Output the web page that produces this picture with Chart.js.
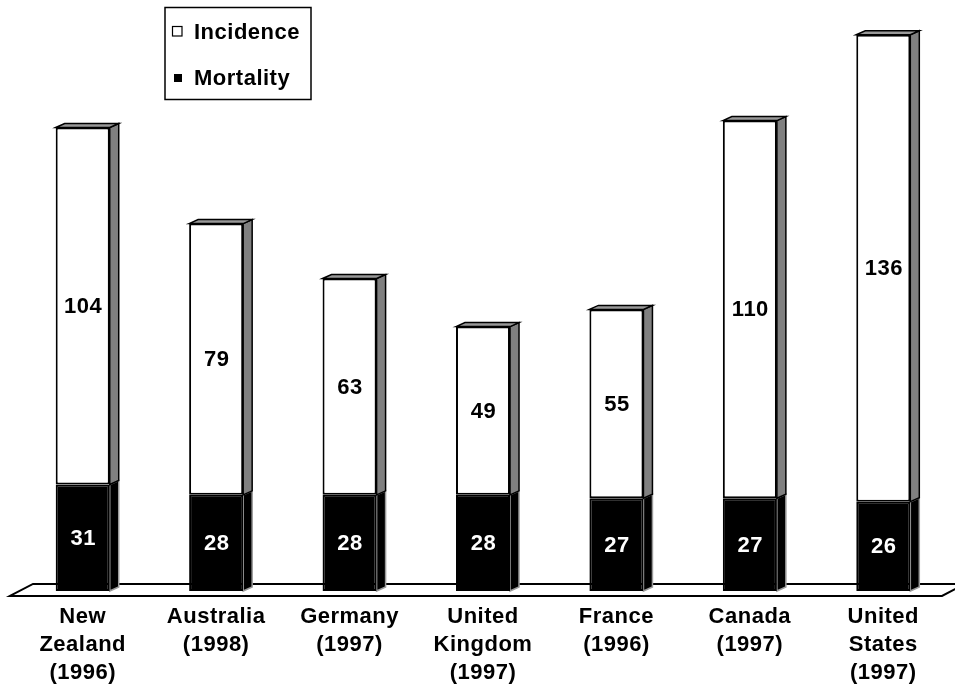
<!DOCTYPE html>
<html>
<head>
<meta charset="utf-8">
<script src="https://cdn.jsdelivr.net/npm/chart.js@4/dist/chart.umd.min.js"></script>
<style>
  html, body { margin: 0; padding: 0; background: #fff; }
  #wrap { width: 955px; height: 692px; }
</style>
</head>
<body>
<div id="wrap"><canvas id="c" width="955" height="692"></canvas></div>
<script>
// Category labels, one line per array entry
const categories = [
  ['New', 'Zealand', '(1996)'],
  ['Australia', '(1998)'],
  ['Germany', '(1997)'],
  ['United', 'Kingdom', '(1997)'],
  ['France', '(1996)'],
  ['Canada', '(1997)'],
  ['United', 'States', '(1997)']
];
// Rates per 100,000
const mortality = [31, 28, 28, 28, 27, 27, 26];
const incidence = [104, 79, 63, 49, 55, 110, 136];
const seriesNames = ['Mortality', 'Incidence'];

const FONT = '"Liberation Sans", Arial, sans-serif';
const DEPTH_X = 9, DEPTH_Y = -4;

// Slightly spaced lettering for every text on the canvas
const spacing = {
  id: 'spacing',
  beforeDraw(chart) { chart.ctx.letterSpacing = '0.5px'; }
};

// Floor slab plus the side and top faces of each bar
const faces = {
  id: 'faces',
  beforeDatasetsDraw(chart) {
    const ctx = chart.ctx, area = chart.chartArea;
    const y0 = chart.scales.y.getPixelForValue(0);
    ctx.save();
    // floor
    const fy = y0 + 5, by = y0 - 7, lx = area.left - 6, rx = area.right - 8, d = 23;
    ctx.beginPath();
    ctx.moveTo(lx, fy);
    ctx.lineTo(lx + d, by);
    ctx.lineTo(rx + d, by);
    ctx.lineTo(rx, fy);
    ctx.closePath();
    ctx.fillStyle = '#ffffff';
    ctx.fill();
    ctx.lineWidth = 2;
    ctx.strokeStyle = '#000';
    ctx.stroke();

    chart.data.datasets.forEach((ds, di) => {
      const meta = chart.getDatasetMeta(di);
      const isTop = di === chart.data.datasets.length - 1;
      meta.data.forEach(bar => {
        const p = bar.getProps(['x', 'y', 'base', 'width'], true);
        const l = p.x - p.width / 2, r = p.x + p.width / 2;
        // side face
        ctx.beginPath();
        ctx.moveTo(r, p.y);
        ctx.lineTo(r + DEPTH_X, p.y + DEPTH_Y);
        ctx.lineTo(r + DEPTH_X, p.base + DEPTH_Y);
        ctx.lineTo(r, p.base);
        ctx.closePath();
        ctx.fillStyle = isTop ? '#808080' : '#000000';
        ctx.fill();
        ctx.lineWidth = 1.5;
        ctx.strokeStyle = isTop ? '#000' : '#9a9a9a';
        ctx.stroke();
        if (isTop) {
          // top face
          ctx.beginPath();
          ctx.moveTo(l, p.y);
          ctx.lineTo(l + DEPTH_X, p.y + DEPTH_Y);
          ctx.lineTo(r + DEPTH_X, p.y + DEPTH_Y);
          ctx.lineTo(r, p.y);
          ctx.closePath();
          ctx.fillStyle = '#999999';
          ctx.fill();
          ctx.lineWidth = 1.5;
          ctx.strokeStyle = '#000';
          ctx.stroke();
        }
      });
    });
    ctx.restore();
  },
  afterDatasetsDraw(chart) {
    // value labels centred on each segment's front face
    const ctx = chart.ctx;
    ctx.save();
    ctx.font = 'bold 22px ' + FONT;
    ctx.textAlign = 'center';
    ctx.textBaseline = 'middle';
    chart.data.datasets.forEach((ds, di) => {
      const meta = chart.getDatasetMeta(di);
      meta.data.forEach((bar, i) => {
        const p = bar.getProps(['x', 'y', 'base'], true);
        ctx.fillStyle = di === 0 ? '#ffffff' : '#000000';
        ctx.fillText(String(ds.data[i]), p.x + 0.5, (p.y + p.base) / 2 + 1);
      });
    });
    ctx.restore();
  }
};

// Boxed legend in the upper left
const boxLegend = {
  id: 'boxLegend',
  afterDraw(chart) {
    const ctx = chart.ctx;
    ctx.save();
    ctx.lineWidth = 1.5;
    ctx.strokeStyle = '#000';
    ctx.strokeRect(165, 7.5, 146, 92);
    ctx.font = 'bold 22px ' + FONT;
    ctx.textAlign = 'left';
    ctx.textBaseline = 'alphabetic';
    ctx.fillStyle = '#000';
    // Incidence: hollow square
    ctx.lineWidth = 1.2;
    ctx.strokeRect(172.5, 26.5, 9.5, 9.5);
    ctx.fillText(seriesNames[1], 194, 39);
    // Mortality: filled square
    ctx.fillRect(174, 74, 8, 8);
    ctx.fillText(seriesNames[0], 194, 85);
    ctx.restore();
  }
};

new Chart(document.getElementById('c'), {
  type: 'bar',
  data: {
    labels: categories,
    datasets: [
      {
        label: seriesNames[0],
        data: mortality,
        backgroundColor: '#000000',
        borderColor: '#000000',
        borderWidth: 2,
        borderSkipped: false
      },
      {
        label: seriesNames[1],
        data: incidence,
        backgroundColor: '#ffffff',
        borderColor: '#000000',
        borderWidth: 2,
        borderSkipped: false
      }
    ]
  },
  options: {
    responsive: false,
    animation: false,
    devicePixelRatio: 1,
    layout: { padding: { left: 16, right: 5, top: 9, bottom: -7 } },
    datasets: { bar: { categoryPercentage: 1, barPercentage: 0.405 } },
    plugins: { legend: { display: false }, tooltip: { enabled: false } },
    scales: {
      x: {
        stacked: true,
        grid: { display: false, drawTicks: false },
        border: { display: false },
        ticks: {
          color: '#000',
          font: { family: FONT, size: 22, weight: 'bold', lineHeight: 1.273 },
          padding: 12,
          maxRotation: 0,
          autoSkip: false
        }
      },
      y: {
        stacked: true,
        display: false,
        min: 0,
        max: 169.5
      }
    }
  },
  plugins: [spacing, faces, boxLegend]
});
</script>
</body>
</html>
